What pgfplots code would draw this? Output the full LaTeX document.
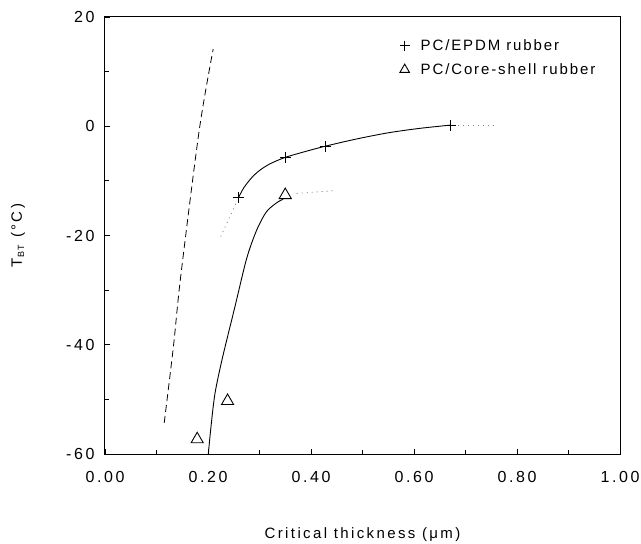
\documentclass[border=0pt]{standalone}
\usepackage{pgfplots}
\pgfplotsset{compat=1.18}
\usepackage{fontspec}
\setmainfont{Liberation Sans}
\newfontfamily\lsf[LetterSpace=16]{Liberation Sans}
\newfontfamily\lgf[LetterSpace=12.5]{Liberation Sans}
\begin{document}
\begin{tikzpicture}
\begin{axis}[
  name=ax,
  scale only axis, width=515pt, height=437pt,
  xmin=0, xmax=1, ymin=-60, ymax=20,
  axis line style={line width=1pt},
  tick pos=left, tick align=inside,
  xtick={0,0.2,0.4,0.6,0.8,1.0}, minor xtick={0.1,0.3,0.5,0.7,0.9},
  ytick={-60,-40,-20,0,20}, minor ytick={-50,-30,-10,10},
  major tick length=5pt, minor tick length=4pt,
  every tick/.style={line width=0.8pt, black},
  /pgf/number format/assume math mode=true,
  xticklabel={\pgfmathprintnumber[fixed,fixed zerofill,precision=2,assume math mode=true]{\tick}},
  xticklabel style={font=\lsf\fontsize{16}{18}\selectfont, yshift=-14pt},
  yticklabel style={font=\lsf\fontsize{16}{18}\selectfont, xshift=-7pt},
  xlabel={Critical thickness (μm)},
  xlabel style={font=\lsf\fontsize{15}{18}\selectfont, at={(axis description cs:0.5,0)}, anchor=center, yshift=-81pt},
  ylabel={T\textsubscript{\fontsize{9}{10}\selectfont BT} (°C)},
  ylabel style={font=\lsf\fontsize{15}{18}\selectfont, at={(axis description cs:-0.169,0.5)}, anchor=center},
  legend style={draw=none, fill=none, font=\lgf\fontsize{15}{18}\selectfont,
    at={(rel axis cs:0.566,0.958)}, anchor=north west, row sep=7.5pt,
    /tikz/every odd column/.append style={column sep=9pt}},
  legend cell align=left,
  clip=false,
]
% dashed line
\addplot[black, line width=0.8pt, dash pattern=on 7pt off 4pt, smooth, forget plot] coordinates {
 (0.115,-54.3) (0.133,-40.2) (0.147,-27.5) (0.183,-0.7) (0.21,14.1)};
% EPDM fitted curve
\addplot[black, line width=0.9pt, smooth, forget plot] coordinates {
 (0.259,-13.1) (0.27,-11.2) (0.285,-9.4) (0.30,-8.1) (0.32,-6.9) (0.35,-5.7) (0.39,-4.6) (0.43,-3.6) (0.49,-2.3) (0.55,-1.2) (0.61,-0.4) (0.67,0.2)};
% core-shell fitted curve
\addplot[black, line width=0.9pt, smooth, forget plot] coordinates {
 (0.2006,-60) (0.2058,-55.0) (0.2136,-48.9) (0.2278,-42.5) (0.2524,-33.0) (0.2751,-24.2) (0.2946,-19.0) (0.314,-15.6) (0.3365,-13.8) (0.346,-13.4)};
% dotted extensions
\addplot[gray, line width=0.8pt, dash pattern=on 1pt off 4pt, forget plot] coordinates {
 (0.2247,-20.2) (0.2485,-15.3) (0.254,-14.2)};
\addplot[gray, line width=0.8pt, dash pattern=on 1pt off 4pt, forget plot] coordinates {
 (0.685,0.2) (0.76,0.2)};
\addplot[gray, line width=0.8pt, dash pattern=on 1pt off 4pt, forget plot] coordinates {
 (0.372,-12.3) (0.443,-11.8)};
% data points
\addplot[black, only marks, mark=+, mark size=5.5pt, line width=0.9pt,
  legend image post style={mark size=5pt}] coordinates {
 (0.259,-13.1) (0.35,-5.7) (0.429,-3.7) (0.67,0.2)};
\addlegendentry{PC/EPDM rubber}
\addplot[black, only marks, mark=triangle, mark size=7pt, line width=0.9pt,
  legend image post style={mark size=5.5pt}] coordinates {
 (0.179,-57.3) (0.238,-50.3) (0.35,-12.6)};
\addlegendentry{PC/Core-shell rubber}
\end{axis}
\pgfresetboundingbox
\path ([shift={(-105pt,-89pt)}]ax.south west) rectangle ([shift={(21pt,17pt)}]ax.north east);
\end{tikzpicture}
\end{document}
